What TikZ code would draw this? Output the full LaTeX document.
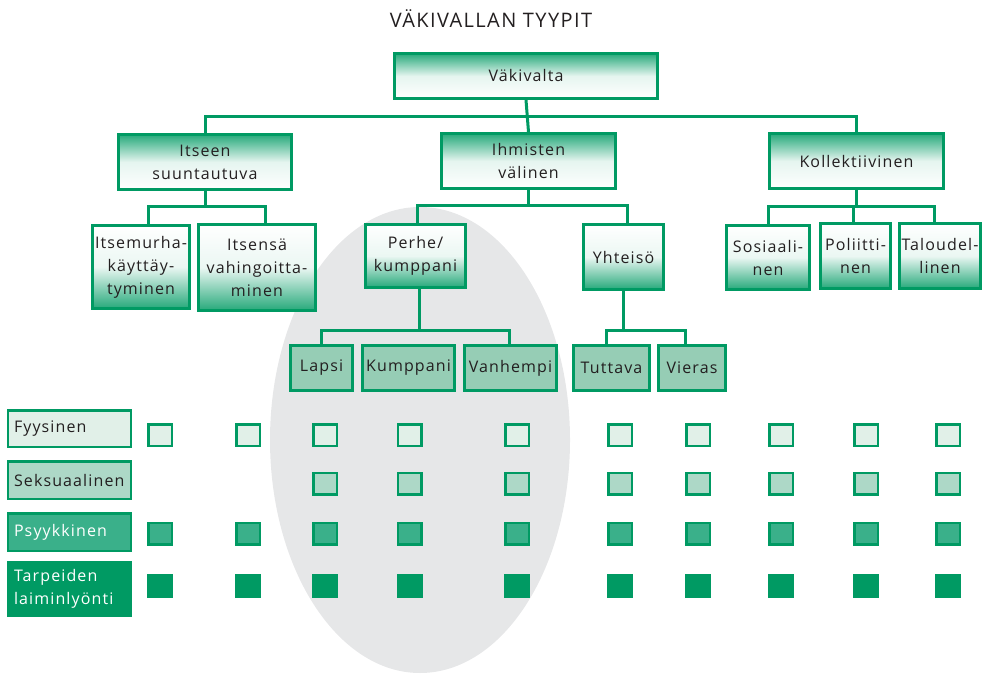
\documentclass[tikz,border=0pt]{standalone}
\usepackage{fontspec}
\setmainfont{Open Sans}[LetterSpace=7]
\definecolor{vgreen}{RGB}{0,154,99}
\definecolor{vpale}{RGB}{225,240,232}
\definecolor{vlight}{RGB}{173,216,199}
\definecolor{vmid}{RGB}{58,176,138}
\definecolor{vleaf}{RGB}{150,205,181}
\definecolor{vgray}{RGB}{230,231,232}
\definecolor{vtext}{RGB}{35,31,32}
\begin{document}
\begin{tikzpicture}[x=1pt, y=-1pt,
  every node/.style={font=\fontsize{16}{23}\selectfont, text=vtext},
  conn/.style={draw=vgreen, line width=3pt},
  topbox/.style={draw=vgreen, line width=3pt, top color=vgreen!85, bottom color=white, middle color=vgreen!10, align=center, inner sep=0pt},
  midbox/.style={draw=vgreen, line width=3pt, top color=white, bottom color=vgreen!85, middle color=vgreen!8, align=center, inner sep=0pt},
  leafbox/.style={draw=vgreen, line width=3pt, fill=vleaf, inner sep=0pt, minimum height=45},
  rowlab/.style={draw=vgreen, line width=2.5pt, minimum width=122.5, text width=111, align=left, inner xsep=6pt, inner ysep=0pt},
  sq/.style={draw=vgreen, line width=2.5pt, minimum width=23.5, minimum height=21.5, inner sep=0pt}]
  \useasboundingbox (0,0) rectangle (984,674);
  % grey area behind the family branch
  \fill[vgray] (420,440) ellipse [x radius=150, y radius=233];

  \node[font=\fontsize{20}{22}\selectfont] (title) at (491,19) {VÄKIVALLAN TYYPIT};

  % tree
  \node[topbox, minimum width=263, minimum height=45] (vak) at (526,76) {Väkivalta};
  \node[topbox, minimum width=173, minimum height=55] (itseen) at (205,162) {Itseen\\suuntautuva};
  \node[topbox, minimum width=174, minimum height=55] (ihmiset) at (528.5,161) {Ihmisten\\välinen};
  \node[topbox, minimum width=174, minimum height=55] (kollekt) at (856.5,161) {Kollektiivinen};

  \node[midbox, minimum width=97, minimum height=83] (murha) at (141,267) {Itsemurha-\\käyttäy-\\tyminen};
  \node[midbox, minimum width=117, minimum height=86] (vahin) at (257,267.5) {Itsensä\\vahingoitta-\\minen};
  \node[midbox, minimum width=100, minimum height=63] (perhe) at (415.5,256) {Perhe/\\kumppani};
  \node[midbox, minimum width=80, minimum height=65] (yhteiso) at (623.5,257) {Yhteisö};
  \node[midbox, minimum width=83, minimum height=64] (sosiaal) at (768,257.5) {Sosiaali-\\nen};
  \node[midbox, minimum width=70, minimum height=65] (poliit) at (855.5,256) {Poliitti-\\nen};
  \node[midbox, minimum width=81, minimum height=65] (talous) at (940,256) {Taloudel-\\linen};

  \node[leafbox, minimum width=62] (lapsi) at (321.5,368) {Lapsi};
  \node[leafbox, minimum width=92] (kumpp) at (408.5,368) {Kumppani};
  \node[leafbox, minimum width=92] (vanh) at (510.5,368) {Vanhempi};
  \node[leafbox, minimum width=76] (tuttava) at (611.5,368) {Tuttava};
  \node[leafbox, minimum width=67] (vieras) at (692,368) {Vieras};

  \draw[conn] (vak.south) -- (ihmiset.north);
  \draw[conn] (itseen.north) -- ++(0,-16) -| (kollekt.north);
  \draw[conn] (itseen.south) -- ++(0,15);
  \draw[conn] ([xshift=7]murha.north) -- ++(0,-18) -| ([xshift=8]vahin.north);
  \draw[conn] (ihmiset.south) -- ++(0,15);
  \draw[conn] ([xshift=1.5]perhe.north) -- ++(0,-18) -| ([xshift=3.5]yhteiso.north);
  \draw[conn] (kollekt.south) -- ++(0,16);
  \draw[conn] (sosiaal.north) -- ++(0,-18) -| ([xshift=-6]talous.north);
  \draw[conn] ([xshift=-2.5]poliit.north) -- ++(0,-16);
  \draw[conn] ([xshift=3.5]perhe.south) -- ++(0,41);
  \draw[conn] (lapsi.north) -- ++(0,-14) -| ([xshift=-1.5]vanh.north);
  \draw[conn] (yhteiso.south) -- ++(0,39);
  \draw[conn] ([xshift=-5.5]tuttava.north) -- ++(0,-14) -| ([xshift=-7]vieras.north);

  % types of violence
  \node[rowlab, fill=vpale, minimum height=36.5] (fyys) at (69.5,428.5) {Fyysinen};
  \node[rowlab, fill=vlight, minimum height=37.5] (seks) at (69.5,480) {Seksuaalinen};
  \node[rowlab, fill=vmid, text=white, minimum height=37.5] (psyyk) at (69.5,532) {Psyykkinen};
  \node[rowlab, fill=vgreen, text=white, minimum height=53.5] (tarp) at (69.5,589) {Tarpeiden\\laiminlyönti};

  \foreach \cx [count=\c] in {160,248,325,409.5,517,620,698,781,866,948} {
    \node[sq, fill=vpale] (fy-\c) at (\cx,435) {};
    \ifnum\c>2 \node[sq, fill=vlight] (se-\c) at (\cx,483.5) {}; \fi
    \node[sq, fill=vmid] (ps-\c) at (\cx,533.5) {};
    \node[sq, fill=vgreen] (ta-\c) at (\cx,586) {};
  }
\end{tikzpicture}
\end{document}
